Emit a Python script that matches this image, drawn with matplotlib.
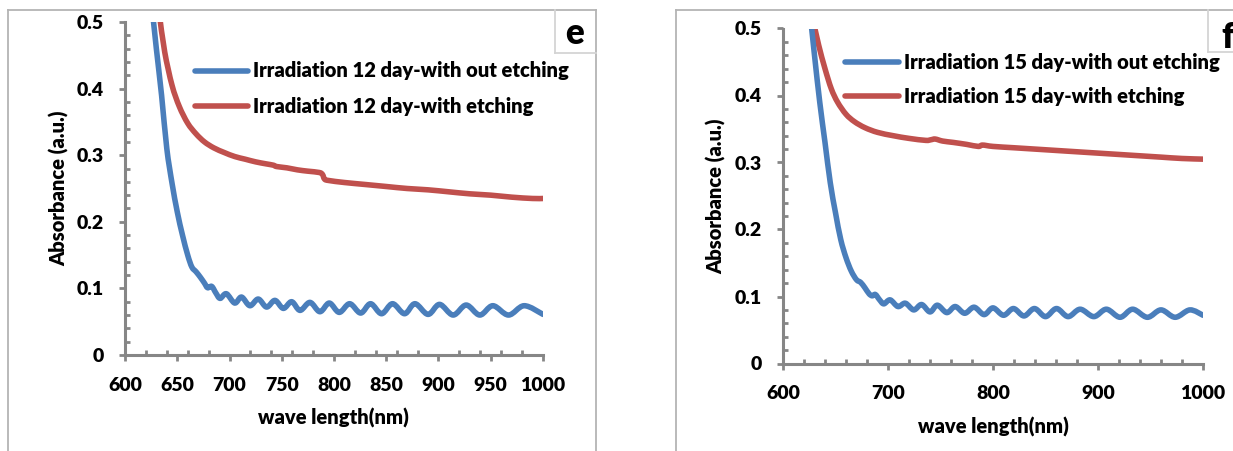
import matplotlib
matplotlib.use("Agg")
import matplotlib.pyplot as plt
import numpy as np
from matplotlib.lines import Line2D
from matplotlib.patches import PathPatch
from matplotlib.path import Path
from matplotlib.ticker import FuncFormatter, MultipleLocator

# 12 day samples (nm, absorbance)
wl_12_plain = [626, 630, 635, 640, 645, 650, 655, 660, 664, 668, 672, 676, 679, 683, 687,
               691, 697, 705, 711.5, 719.5, 727.5, 735.5, 743.5, 751.5, 759.5, 767.5,
               777, 786.5, 795.5, 805, 815, 825.5, 835, 845.5, 856, 867.5, 877.5, 890,
               901, 914, 926.5, 939.5, 952, 967, 982, 1000]
abs_12_plain = [0.52, 0.46, 0.39, 0.31, 0.258, 0.215, 0.180, 0.150, 0.132, 0.125, 0.117,
                0.108, 0.101, 0.103, 0.093, 0.085, 0.092, 0.078, 0.087, 0.074, 0.084,
                0.072, 0.082, 0.070, 0.080, 0.067, 0.079, 0.065, 0.078, 0.064, 0.077,
                0.063, 0.077, 0.062, 0.077, 0.062, 0.077, 0.061, 0.076, 0.060, 0.075,
                0.060, 0.074, 0.060, 0.074, 0.061]

wl_12_etch = [633, 638, 645, 652, 660, 668, 676, 685, 695, 705, 715, 725, 735, 742, 745,
              755, 765, 775, 786, 789, 791, 795, 810, 830, 850, 870, 890, 910, 930, 950,
              970, 990, 1000]
abs_12_etch = [0.51, 0.455, 0.405, 0.373, 0.348, 0.332, 0.320, 0.311, 0.304, 0.298,
               0.294, 0.290, 0.287, 0.285, 0.283, 0.281, 0.278, 0.276, 0.274, 0.271,
               0.264, 0.262, 0.259, 0.256, 0.253, 0.250, 0.248, 0.245, 0.242, 0.240,
               0.237, 0.235, 0.235]

# 15 day samples (nm, absorbance)
wl_15_plain = [626, 630, 635, 640, 645, 650, 655, 660, 665, 670, 674, 678, 682, 685, 688,
               692, 696, 702, 709.5, 716.5, 724.5, 732, 740, 747, 756, 764, 773, 782,
               791.5, 800, 810, 819.5, 829.5, 839.5, 850, 860.5, 871.5, 883, 896, 908,
               921, 933, 947, 960, 973.5, 987.5, 1000]
abs_15_plain = [0.52, 0.46, 0.39, 0.33, 0.27, 0.225, 0.185, 0.158, 0.138, 0.125, 0.121,
                0.113, 0.104, 0.101, 0.103, 0.095, 0.089, 0.095, 0.085, 0.090, 0.080,
                0.088, 0.077, 0.087, 0.076, 0.085, 0.075, 0.084, 0.073, 0.083, 0.072,
                0.082, 0.071, 0.082, 0.070, 0.082, 0.070, 0.081, 0.070, 0.081, 0.069,
                0.081, 0.069, 0.080, 0.069, 0.080, 0.072]

wl_15_etch = [629, 634, 640, 646, 652, 660, 668, 678, 690, 705, 720, 736, 741, 745, 752,
              762, 775, 786, 790, 800, 820, 840, 860, 880, 900, 920, 940, 960, 980, 1000]
abs_15_etch = [0.51, 0.475, 0.44, 0.410, 0.390, 0.372, 0.361, 0.352, 0.345, 0.340,
               0.336, 0.333, 0.334, 0.335, 0.332, 0.330, 0.327, 0.324, 0.326, 0.324,
               0.322, 0.320, 0.318, 0.316, 0.314, 0.312, 0.310, 0.308, 0.306, 0.305]

panels = [
    ("12", "e", wl_12_plain, abs_12_plain, wl_12_etch, abs_12_etch, 50),
    ("15", "f", wl_15_plain, abs_15_plain, wl_15_etch, abs_15_etch, 100),
]

BLUE = "#4a7ebb"
RED = "#c0504d"
AXIS_GREY = "#868686"
FRAME_GREY = "#b4b4b4"

W, H = 1233, 451
plt.rcParams.update({
    "font.family": ["Lato", "DejaVu Sans"],
    "font.weight": "heavy",
    "font.size": 14,
})


def fx(px):
    return px / W


def fy(py):
    return 1 - py / H


def smooth_path(x, y):
    """Smoothed line through the points (Catmull-Rom as cubic Bezier)."""
    pts = np.column_stack([x, y]).astype(float)
    verts = [pts[0]]
    codes = [Path.MOVETO]
    n = len(pts)
    for i in range(n - 1):
        p0 = pts[i - 1] if i > 0 else pts[i]
        p1, p2 = pts[i], pts[i + 1]
        p3 = pts[i + 2] if i + 2 < n else p2
        verts += [p1 + (p2 - p0) / 6, p2 - (p3 - p1) / 6, p2]
        codes += [Path.CURVE4] * 3
    return Path(verts, codes)


fig = plt.figure(figsize=(W / 100, H / 100), dpi=100)

# panel frames and letter boxes
frame_lines = [
    ([8, 8], [10, 451]), ([8, 596], [10, 10]), ([596, 596], [10, 451]),
    ([676, 676], [10, 451]), ([676, 1233], [10, 10]),
]
for xs, ys in frame_lines:
    fig.add_artist(Line2D([fx(v) for v in xs], [fy(v) for v in ys],
                          color=FRAME_GREY, lw=1.3))
box_lines = [
    ([555, 555], [10, 53]), ([555, 596], [53, 53]),
    ([1208, 1208], [10, 52]), ([1208, 1233], [52, 52]),
]
for xs, ys in box_lines:
    fig.add_artist(Line2D([fx(v) for v in xs], [fy(v) for v in ys],
                          color="#d4d4d4", lw=1.3))
fig.text(fx(575), fy(33), "e", fontsize=25, ha="center", va="center")
fig.text(fx(1221), fy(37), "f", fontsize=25, ha="left", va="center")

axes_px = [(125, 543, 22, 355), (783, 1203, 28.5, 363.5)]
legend_px = [(195, 248, 71, 106), (845, 899, 62, 96)]
xlabel_px = [(333, 418), (993, 427)]
ylabel_px = [(59, 188), (716, 196)]

for (days, letter, wl_a, ab_a, wl_b, ab_b, xstep), (x0, x1, y1, y0), leg, xl, yl in zip(
        panels, axes_px, legend_px, xlabel_px, ylabel_px):
    ax = fig.add_axes([fx(x0), fy(y0), (x1 - x0) / W, (y0 - y1) / H])
    ax.set_xlim(600, 1000)
    ax.set_ylim(0, 0.5)

    for wl, ab, color in [(wl_b, ab_b, RED), (wl_a, ab_a, BLUE)]:
        ax.add_patch(PathPatch(smooth_path(wl, ab), fill=False, edgecolor=color,
                               lw=4.0, capstyle="round", joinstyle="round"))

    for side in ["top", "right"]:
        ax.spines[side].set_visible(False)
    for side in ["left", "bottom"]:
        ax.spines[side].set_color(AXIS_GREY)
        ax.spines[side].set_linewidth(2.2)

    ax.xaxis.set_major_locator(MultipleLocator(xstep))
    ax.xaxis.set_minor_locator(MultipleLocator(20))
    ax.yaxis.set_major_locator(MultipleLocator(0.1))
    ax.yaxis.set_minor_locator(MultipleLocator(0.02))
    ax.yaxis.set_major_formatter(FuncFormatter(lambda v, _: "0" if abs(v) < 1e-9 else f"{v:.1f}"))
    ax.tick_params(which="major", direction="out", length=4.5, width=2.0,
                   color=AXIS_GREY, labelsize=14)
    ax.tick_params(which="minor", direction="in", length=3.5, width=2.0, color=AXIS_GREY)
    ax.tick_params(axis="x", which="major", pad=11)
    ax.tick_params(axis="y", which="major", pad=11)

    fig.text(fx(xl[0]), fy(xl[1]), "wave length(nm)", fontsize=14.5, ha="center", va="center")
    fig.text(fx(yl[0]), fy(yl[1]), "Absorbance (a.u.)", fontsize=14.5, ha="center",
             va="center", rotation=90)

    labels = [f"Irradiation {days} day-with out etching", f"Irradiation {days} day-with etching"]
    for (label, color, ly) in zip(labels, [BLUE, RED], leg[2:]):
        fig.add_artist(Line2D([fx(leg[0]), fx(leg[1])], [fy(ly), fy(ly)], color=color,
                              lw=4.0, solid_capstyle="round"))
        fig.text(fx(leg[1] + 5), fy(ly), label, fontsize=14.5, ha="left", va="center")

fig.savefig("out.png", dpi=100, facecolor="white")
